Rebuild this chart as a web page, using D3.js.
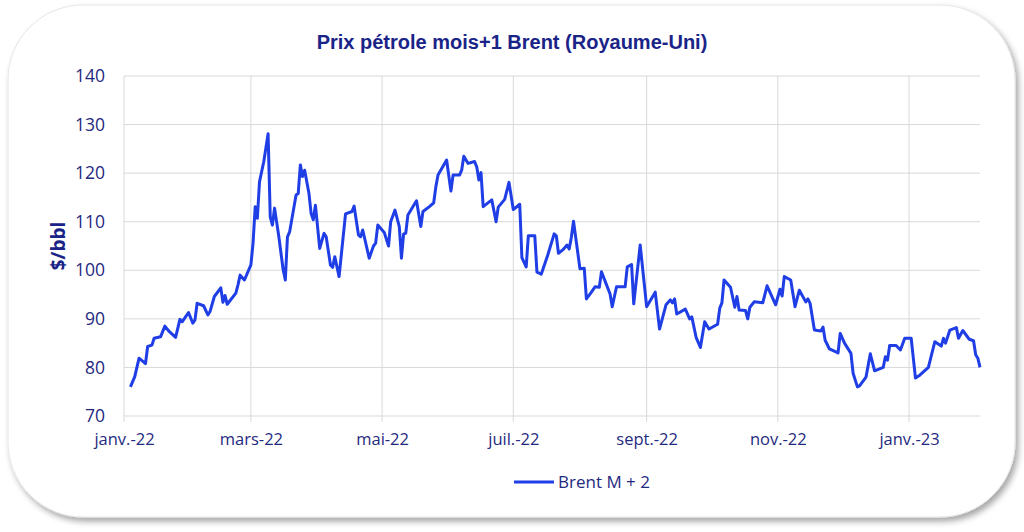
<!DOCTYPE html>
<html>
<head>
<meta charset="utf-8">
<script src="https://cdn.jsdelivr.net/npm/d3@7"></script>
<style>
  html, body { margin: 0; padding: 0; background: #ffffff; }
  svg { display: block; }
</style>
</head>
<body>
<svg id="chart" width="1024" height="532"></svg>
<script>
// Brent M+2 daily close
const DATES = [
  "2022-01-04","2022-01-06","2022-01-08","2022-01-11","2022-01-12","2022-01-14","2022-01-15","2022-01-18",
  "2022-01-20","2022-01-22","2022-01-25","2022-01-27","2022-01-28","2022-01-31","2022-02-02","2022-02-03",
  "2022-02-04","2022-02-07","2022-02-09","2022-02-10","2022-02-12","2022-02-15","2022-02-16","2022-02-17",
  "2022-02-18","2022-02-22","2022-02-23","2022-02-24","2022-02-26","2022-03-01","2022-03-02","2022-03-03",
  "2022-03-04","2022-03-05","2022-03-07","2022-03-09","2022-03-10","2022-03-11","2022-03-12","2022-03-14",
  "2022-03-16","2022-03-17","2022-03-18","2022-03-19","2022-03-22","2022-03-23","2022-03-24","2022-03-25",
  "2022-03-26","2022-03-28","2022-03-29","2022-03-30","2022-03-31","2022-04-02","2022-04-04","2022-04-05",
  "2022-04-07","2022-04-08","2022-04-09","2022-04-11","2022-04-14","2022-04-17","2022-04-18","2022-04-20",
  "2022-04-21","2022-04-22","2022-04-25","2022-04-27","2022-04-28","2022-04-29","2022-05-02","2022-05-04",
  "2022-05-05","2022-05-07","2022-05-09","2022-05-10","2022-05-11","2022-05-12","2022-05-13","2022-05-17",
  "2022-05-19","2022-05-20","2022-05-23","2022-05-25","2022-05-26","2022-05-27","2022-05-31","2022-06-02",
  "2022-06-03","2022-06-06","2022-06-07","2022-06-08","2022-06-10","2022-06-13","2022-06-14","2022-06-15",
  "2022-06-16","2022-06-17","2022-06-21","2022-06-23","2022-06-24","2022-06-27","2022-06-29","2022-07-01",
  "2022-07-04","2022-07-05","2022-07-07","2022-07-08","2022-07-11","2022-07-12","2022-07-14","2022-07-17",
  "2022-07-20","2022-07-21","2022-07-22","2022-07-24","2022-07-26","2022-07-27","2022-07-28","2022-07-29",
  "2022-08-01","2022-08-03","2022-08-04","2022-08-06","2022-08-08","2022-08-10","2022-08-11","2022-08-13",
  "2022-08-15","2022-08-16","2022-08-18","2022-08-22","2022-08-23","2022-08-25","2022-08-26","2022-08-29",
  "2022-09-01","2022-09-05","2022-09-07","2022-09-10","2022-09-12","2022-09-13","2022-09-14","2022-09-15",
  "2022-09-19","2022-09-21","2022-09-22","2022-09-24","2022-09-26","2022-09-28","2022-09-30","2022-10-04",
  "2022-10-05","2022-10-06","2022-10-07","2022-10-10","2022-10-12","2022-10-13","2022-10-14","2022-10-17",
  "2022-10-18","2022-10-19","2022-10-21","2022-10-25","2022-10-27","2022-10-31","2022-11-02","2022-11-03",
  "2022-11-04","2022-11-07","2022-11-09","2022-11-11","2022-11-14","2022-11-15","2022-11-16","2022-11-18",
  "2022-11-21","2022-11-22","2022-11-23","2022-11-25","2022-11-29","2022-11-30","2022-12-02","2022-12-05",
  "2022-12-06","2022-12-08","2022-12-09","2022-12-12","2022-12-14","2022-12-16","2022-12-20","2022-12-21",
  "2022-12-22","2022-12-23","2022-12-26","2022-12-28","2022-12-30","2023-01-02","2023-01-04","2023-01-06",
  "2023-01-10","2023-01-13","2023-01-16","2023-01-17","2023-01-18","2023-01-20","2023-01-23","2023-01-24",
  "2023-01-26","2023-01-29","2023-01-31","2023-02-01","2023-02-02","2023-02-03"
];
const BRENT = [
  76.0, 78.1, 81.9, 80.8, 84.3, 84.6, 86.0, 86.3,
  88.5, 87.4, 86.2, 89.9, 89.4, 91.3, 89.1, 89.8,
  93.2, 92.7, 90.8, 91.5, 94.6, 96.4, 93.4, 94.8,
  93.0, 95.3, 97.0, 99.0, 98.0, 101.1, 105.6, 113.1,
  110.7, 118.2, 122.4, 128.1, 111.0, 109.3, 112.8, 106.9,
  100.1, 98.0, 106.9, 107.9, 115.5, 115.8, 121.7, 119.3,
  120.6, 115.8, 111.7, 110.4, 113.4, 104.5, 107.6, 106.9,
  101.1, 100.6, 102.8, 98.7, 111.6, 112.1, 113.2, 107.3,
  106.9, 108.3, 102.5, 105.0, 105.6, 109.3, 107.8, 105.0,
  110.0, 112.4, 109.0, 102.5, 107.5, 107.6, 111.4, 114.3,
  109.0, 112.1, 113.1, 113.9, 117.2, 119.6, 122.7, 116.3,
  119.6, 119.6, 120.6, 123.5, 122.0, 122.4, 121.3, 118.6,
  120.1, 113.1, 114.5, 110.0, 113.0, 114.6, 118.1, 112.5,
  113.6, 102.6, 100.7, 107.1, 107.1, 99.6, 99.2, 103.1,
  107.5, 107.1, 103.5, 104.2, 105.2, 104.4, 106.8, 110.1,
  100.3, 100.4, 94.1, 95.3, 96.6, 96.5, 99.7, 97.4,
  95.1, 92.5, 96.6, 96.6, 100.7, 101.2, 93.1, 105.2,
  92.5, 95.5, 87.9, 92.9, 93.9, 93.3, 94.1, 91.0,
  92.0, 90.0, 90.4, 86.2, 84.1, 89.4, 87.9, 88.9,
  92.2, 93.3, 98.0, 96.5, 92.4, 94.6, 91.8, 91.7,
  90.0, 92.4, 93.5, 93.3, 96.8, 92.9, 96.1, 94.7,
  98.7, 98.0, 92.5, 95.9, 93.5, 94.1, 93.2, 87.7,
  87.5, 88.3, 85.6, 83.8, 83.0, 87.0, 85.0, 82.9,
  78.8, 76.0, 76.2, 78.0, 82.8, 79.3, 80.0, 82.2,
  81.5, 84.5, 84.5, 83.6, 86.0, 86.0, 77.8, 78.4,
  80.0, 85.3, 84.4, 86.0, 85.0, 87.7, 88.2, 86.0,
  87.6, 85.8, 85.5, 82.6, 81.9, 80.0
];
const X_TICKS = ["2022-01-01","2022-03-01","2022-05-01","2022-07-01","2022-09-01","2022-11-01","2023-01-01"];
const MONTHS_FR = ["janv.","févr.","mars","avr.","mai","juin","juil.","août","sept.","oct.","nov.","déc."];
const Y_TICKS = [70, 80, 90, 100, 110, 120, 130, 140];

const TITLE = "Prix pétrole mois+1 Brent (Royaume-Uni)";
const Y_LABEL = "$/bbl";
const SERIES_NAME = "Brent M + 2";

const LINE_COLOR = "#1f3ee6";
const TEXT_COLOR = "#1f2a80";
const GRID_COLOR = "#d9d9d9";
const FONT = "'Open Sans', 'Noto Sans', sans-serif";

const parse = d3.timeParse("%Y-%m-%d");
const data = DATES.map((d, i) => ({ date: parse(d), value: BRENT[i] }));

const svg = d3.select("#chart");
const W = 1024, H = 532;
const m = { left: 124, right: 44, top: 76, bottom: 116 };

// Frame with soft shadow
const defs = svg.append("defs");
const sh = defs.append("filter").attr("id", "shadow")
    .attr("x", "-5%").attr("y", "-5%").attr("width", "110%").attr("height", "115%");
sh.append("feDropShadow")
    .attr("dx", 3).attr("dy", 4).attr("stdDeviation", 3)
    .attr("flood-color", "#000").attr("flood-opacity", 0.35);

svg.append("rect")
    .attr("x", 8).attr("y", 5)
    .attr("width", 1007).attr("height", 512)
    .attr("rx", 75).attr("ry", 75)
    .attr("fill", "#fff")
    .attr("stroke", "#e6e6e6")
    .attr("filter", "url(#shadow)");

const x = d3.scaleTime()
    .domain([parse("2022-01-01"), parse(DATES[DATES.length - 1])])
    .range([m.left, W - m.right]);
const y = d3.scaleLinear()
    .domain([70, 140])
    .range([H - m.bottom, m.top]);

// Horizontal grid
svg.append("g")
    .selectAll("line")
    .data(Y_TICKS)
    .join("line")
    .attr("x1", m.left).attr("x2", W - m.right)
    .attr("y1", d => y(d)).attr("y2", d => y(d))
    .attr("stroke", GRID_COLOR)
    .attr("stroke-width", 1);

// Vertical grid (monthly ticks, running slightly below the axis)
svg.append("g")
    .selectAll("line")
    .data(X_TICKS.map(parse))
    .join("line")
    .attr("x1", d => x(d)).attr("x2", d => x(d))
    .attr("y1", m.top).attr("y2", H - m.bottom + 6)
    .attr("stroke", GRID_COLOR)
    .attr("stroke-width", 1);

// Y axis labels
const yAxis = svg.append("g")
    .attr("transform", `translate(${m.left - 19},0)`)
    .call(d3.axisLeft(y).tickValues(Y_TICKS).tickSize(0).tickPadding(0));
yAxis.select(".domain").remove();
yAxis.selectAll("text")
    .attr("fill", TEXT_COLOR)
    .attr("font-family", FONT)
    .attr("font-size", "17.5px");

// X axis labels
const xAxis = svg.append("g")
    .attr("transform", `translate(0,${H - m.bottom + 17})`)
    .call(d3.axisBottom(x)
        .tickValues(X_TICKS.map(parse))
        .tickFormat(d => `${MONTHS_FR[d.getMonth()]}-${String(d.getFullYear()).slice(2)}`)
        .tickSize(0).tickPadding(0));
xAxis.select(".domain").remove();
xAxis.selectAll("text")
    .attr("fill", TEXT_COLOR)
    .attr("font-family", FONT)
    .attr("font-size", "16.5px");

// Series line
svg.append("path")
    .datum(data)
    .attr("fill", "none")
    .attr("stroke", LINE_COLOR)
    .attr("stroke-width", 3)
    .attr("stroke-linejoin", "round")
    .attr("d", d3.line().x(d => x(d.date)).y(d => y(d.value)));

// Title
svg.append("text")
    .attr("x", 512).attr("y", 49)
    .attr("text-anchor", "middle")
    .attr("fill", "#1a2488")
    .attr("font-family", "'Liberation Sans', Arial, sans-serif")
    .attr("font-weight", "bold")
    .attr("font-size", "20px")
    .text(TITLE);

// Y axis title
svg.append("text")
    .attr("transform", `translate(65,${(m.top + H - m.bottom) / 2}) rotate(-90)`)
    .attr("text-anchor", "middle")
    .attr("fill", "#1a2488")
    .attr("font-family", FONT)
    .attr("font-weight", "bold")
    .attr("font-size", "19px")
    .text(Y_LABEL);

// Legend
const lg = svg.append("g").attr("transform", "translate(514,482)");
lg.append("line")
    .attr("x1", 0).attr("x2", 40)
    .attr("stroke", LINE_COLOR)
    .attr("stroke-width", 3);
lg.append("text")
    .attr("x", 44).attr("y", 6)
    .attr("fill", TEXT_COLOR)
    .attr("font-family", FONT)
    .attr("font-size", "17px")
    .text(SERIES_NAME);
</script>
</body>
</html>
